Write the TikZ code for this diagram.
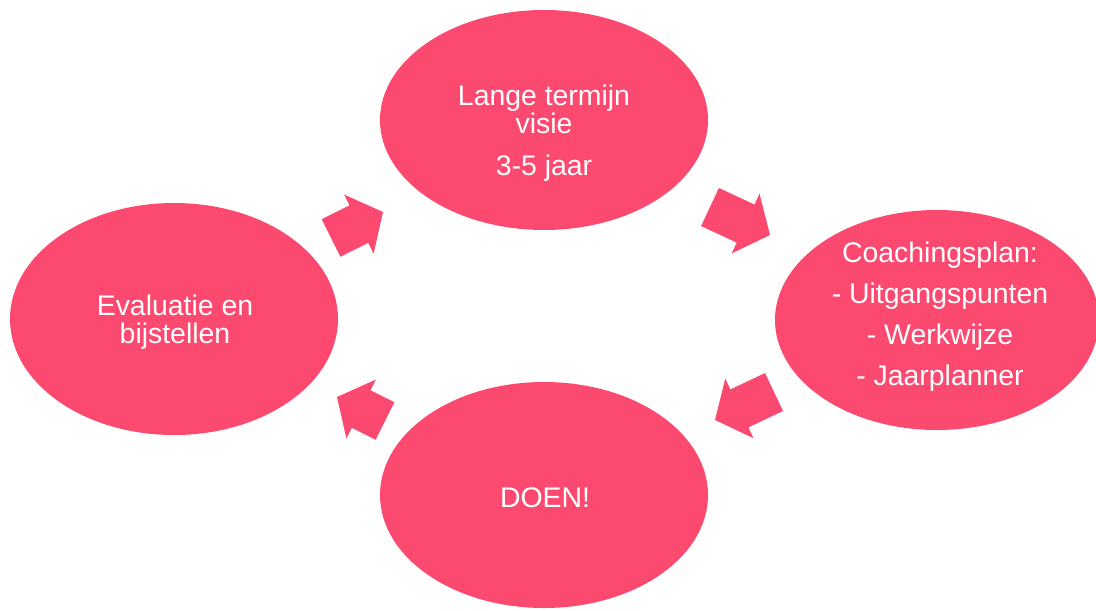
\documentclass[tikz,border=0pt]{standalone}
\usepackage{fontspec}
\setmainfont{Liberation Sans}
\usetikzlibrary{shapes.geometric,calc}
\definecolor{pinkfill}{RGB}{252,73,112}
\newcommand\myblockarrow[2]{%
  \fill[pinkfill]
    ($(#1)!10.5pt!90:(#2)$) --
    ($($(#2)!13.5pt!(#1)$)!10.5pt!-90:(#1)$) --
    ($($(#2)!13.5pt!(#1)$)!16.5pt!-90:(#1)$) --
    (#2) --
    ($($(#2)!13.5pt!(#1)$)!16.5pt!90:(#1)$) --
    ($($(#2)!13.5pt!(#1)$)!10.5pt!90:(#1)$) --
    ($(#1)!10.5pt!-90:(#2)$) -- cycle;}
\begin{document}
\begin{tikzpicture}[x=0.5pt,y=-0.5pt,
  bubble/.style={ellipse,fill=pinkfill,draw=none,inner sep=0pt,
    minimum width=164pt,minimum height=110pt},
  bubbletext/.style={text=white,align=center,inner sep=0pt,
    font=\fontsize{14.2}{14}\selectfont}]
\useasboundingbox (0,0) rectangle (1096,610);
% ellipses
\node[bubble] (top) at (544,120) {};
\node[bubble,minimum width=162pt] (right) at (937,320) {};
\node[bubble,minimum height=116pt] (left) at (174,319) {};
\node[bubble,minimum height=113pt] (bottom) at (544,495) {};
% texts
\node[bubbletext] (toptext) at (544,133) {Lange termijn\\visie\\[7pt]3-5 jaar};
\node[bubbletext] (righttext) at (940,317) {Coachingsplan:\\[6.5pt]- Uitgangspunten\\[6.5pt]- Werkwijze\\[6.5pt]- Jaarplanner};
\node[bubbletext] (lefttext) at (175,322) {Evaluatie en\\bijstellen};
\node[bubbletext] (bottomtext) at (545,498) {DOEN!};
% block arrows
\coordinate (a1t) at (331,238); \coordinate (a1h) at (383,212);
\coordinate (a2t) at (710,207); \coordinate (a2h) at (770,235);
\coordinate (a3t) at (774,392); \coordinate (a3h) at (715,420);
\coordinate (a4t) at (385,421); \coordinate (a4h) at (337,397);
\myblockarrow{a1t}{a1h}
\myblockarrow{a2t}{a2h}
\myblockarrow{a3t}{a3h}
\myblockarrow{a4t}{a4h}
\end{tikzpicture}
\end{document}
